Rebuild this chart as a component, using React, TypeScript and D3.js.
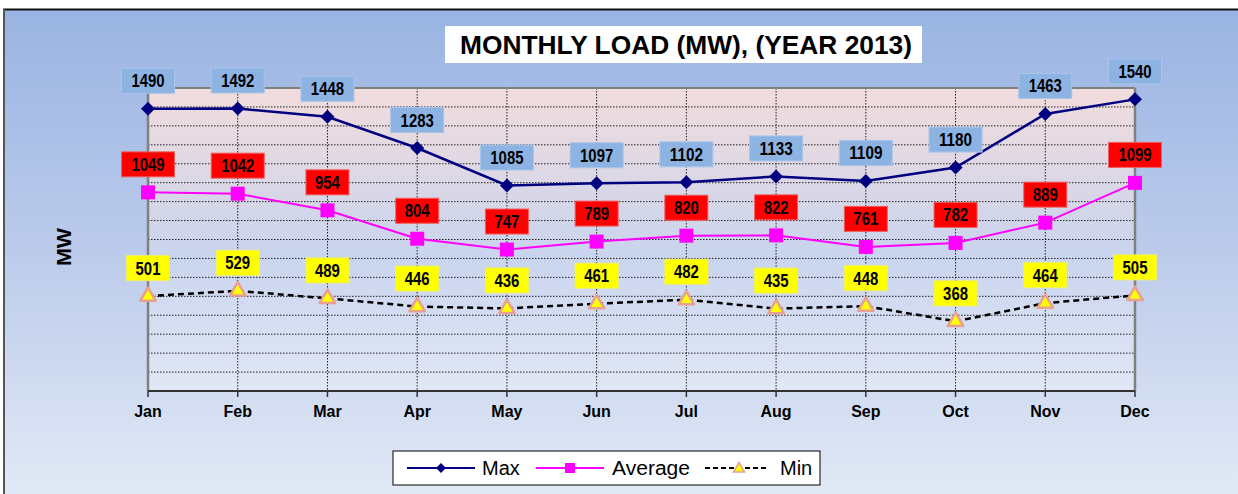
import React from "react";
import * as d3 from "d3";

const months = ["Jan", "Feb", "Mar", "Apr", "May", "Jun", "Jul", "Aug", "Sep", "Oct", "Nov", "Dec"];
const maxLoad = [1490, 1492, 1448, 1283, 1085, 1097, 1102, 1133, 1109, 1180, 1463, 1540];
const avgLoad = [1049, 1042, 954, 804, 747, 789, 820, 822, 761, 782, 889, 1099];
const minLoad = [501, 529, 489, 446, 436, 461, 482, 435, 448, 368, 464, 505];
const yTicks = d3.range(0, 1700, 100);
const title = "MONTHLY LOAD (MW), (YEAR 2013)";

const W = 1238, H = 494;
const PL = 148, PR = 1135, PT = 88, PB = 391;

export default function App() {
  const x = d3.scalePoint<string>().domain(months).range([PL, PR]);
  const y = d3.scaleLinear().domain([0, 1600]).range([PB, PT]);
  const line = (vals: number[]) =>
    d3.line<number>().x((_, i) => x(months[i])!).y((v) => y(v))(vals) || "";

  const mainFont = "'Liberation Sans', Arial, sans-serif";

  const labels = (vals: number[], fill: string, stroke: string, key: string) =>
    vals.map((v, i) => {
      const cx = x(months[i])!;
      const cy = y(v) - 28;
      const n = String(v).length;
      const w = n >= 4 ? 53 : 43;
      return (
        <g key={key + i}>
          <rect x={cx - w / 2} y={cy - 12.5} width={w} height={25} fill={fill} stroke={stroke} strokeWidth={1} />
          <text x={cx} y={cy + 6.5} textAnchor="middle" fontFamily={mainFont} fontWeight="bold" fontSize={18}
            textLength={n * 8.3} lengthAdjust="spacingAndGlyphs" fill="#000">
            {v}
          </text>
        </g>
      );
    });

  const tri = (cx: number, cy: number, s: number) =>
    `M${cx},${cy - s * 0.55} L${cx + s * 0.55},${cy + s * 0.4} L${cx - s * 0.55},${cy + s * 0.4} Z`;

  return (
    <svg width={W} height={H} style={{ position: "absolute", left: 0, top: 0 }} xmlns="http://www.w3.org/2000/svg">
      <defs>
        <linearGradient id="outerBg" x1="0" y1="0" x2="0" y2="1">
          <stop offset="0" stopColor="#99b4e2" />
          <stop offset="0.5" stopColor="#bccbeb" />
          <stop offset="1" stopColor="#e2e9f6" />
        </linearGradient>
        <linearGradient id="plotBg" x1="0" y1="0" x2="0" y2="1">
          <stop offset="0" stopColor="#f2dcdc" />
          <stop offset="0.55" stopColor="#c9d4ee" />
          <stop offset="1" stopColor="#e1e7f5" />
        </linearGradient>
      </defs>
      <rect x={0} y={0} width={W} height={H} fill="#fff" />
      <rect x={4} y={10} width={W - 4} height={H - 10} fill="url(#outerBg)" />
      <line x1={3} x2={W} y1={9.5} y2={9.5} stroke="#111" strokeWidth={2} />
      <line x1={4} x2={4} y1={9} y2={H} stroke="#555" strokeWidth={2} />

      {/* title */}
      <rect x={445} y={26} width={477} height={37} fill="#fff" />
      <text x={686} y={54} textAnchor="middle" fontFamily={mainFont} fontWeight="bold" fontSize={25}
        textLength={452} lengthAdjust="spacingAndGlyphs" fill="#000">
        {title}
      </text>

      {/* plot area */}
      <rect x={PL} y={PT} width={PR - PL} height={PB - PT} fill="url(#plotBg)" />
      {yTicks.filter((t) => t > 0 && t < 1600).map((t) => (
        <line key={"h" + t} x1={PL} x2={PR} y1={y(t)} y2={y(t)} stroke="#222" strokeWidth={1} strokeDasharray="1.5,1.5" />
      ))}
      {months.slice(1, -1).map((m) => (
        <line key={"v" + m} x1={x(m)!} x2={x(m)!} y1={PT} y2={PB} stroke="#222" strokeWidth={1} strokeDasharray="1.5,1.5" />
      ))}
      <line x1={PL} x2={PR} y1={PT} y2={PT} stroke="#808080" strokeWidth={2} />
      <line x1={PL} x2={PL} y1={PT} y2={PB} stroke="#808080" strokeWidth={2.5} />
      <line x1={PR} x2={PR} y1={PT} y2={PB} stroke="#808080" strokeWidth={2.5} />
      <line x1={PL} x2={PR} y1={PB} y2={PB} stroke="#333" strokeWidth={2} />
      {months.map((m) => (
        <line key={"t" + m} x1={x(m)!} x2={x(m)!} y1={PB} y2={PB + 6} stroke="#333" strokeWidth={1.5} />
      ))}
      {months.map((m) => (
        <text key={"l" + m} x={x(m)!} y={417} textAnchor="middle" fontFamily={mainFont} fontWeight="bold" fontSize={16} fill="#000">
          {m}
        </text>
      ))}
      <text transform="translate(71,247) rotate(-90)" textAnchor="middle" fontFamily={mainFont} fontWeight="bold" fontSize={20}
        textLength={38} lengthAdjust="spacingAndGlyphs" fill="#000">
        MW
      </text>

      {/* series lines */}
      <path d={line(maxLoad)} fill="none" stroke="#000080" strokeWidth={2.5} />
      <path d={line(avgLoad)} fill="none" stroke="#ff00ff" strokeWidth={2} />
      <path d={line(minLoad)} fill="none" stroke="#000" strokeWidth={2.5} strokeDasharray="6,4" />

      {/* markers */}
      {maxLoad.map((v, i) => {
        const cx = x(months[i])!, cy = y(v);
        return <path key={"dm" + i} d={`M${cx},${cy - 7} L${cx + 7},${cy} L${cx},${cy + 7} L${cx - 7},${cy} Z`} fill="#000080" />;
      })}
      {avgLoad.map((v, i) => {
        const cx = x(months[i])!, cy = y(v);
        return <rect key={"sq" + i} x={cx - 7} y={cy - 7} width={14} height={14} fill="#ff00ff" />;
      })}
      {minLoad.map((v, i) => {
        const cx = x(months[i])!, cy = y(v);
        return <path key={"tr" + i} d={tri(cx, cy - 1, 14)} fill="#ffff00" stroke="#e7a092" strokeWidth={2.5} strokeLinejoin="round" />;
      })}

      {/* data labels */}
      {labels(maxLoad, "#8db3e2", "#a9c5ea", "lm")}
      {labels(avgLoad, "#ff0000", "#f06060", "la")}
      {labels(minLoad, "#ffff00", "#f0f060", "ln")}

      {/* legend */}
      <rect x={393} y={451} width={427} height={34} fill="#fff" stroke="#000" strokeWidth={1} />
      <line x1={407} x2={475} y1={468} y2={468} stroke="#000080" strokeWidth={2} />
      <path d="M441,463 L446,468 L441,473 L436,468 Z" fill="#000080" />
      <text x={482} y={475} fontFamily={mainFont} fontSize={20} fill="#000">Max</text>
      <line x1={536} x2={604} y1={468} y2={468} stroke="#ff00ff" strokeWidth={2} />
      <rect x={565} y={463} width={10} height={10} fill="#ff00ff" />
      <text x={612} y={475} fontFamily={mainFont} fontSize={20} textLength={78} lengthAdjust="spacingAndGlyphs" fill="#000">Average</text>
      <line x1={705} x2={767} y1={468} y2={468} stroke="#000" strokeWidth={2} strokeDasharray="5,3" />
      <path d={tri(739, 468, 10)} fill="#ffff00" stroke="#e7a092" strokeWidth={1.5} />
      <text x={780} y={475} fontFamily={mainFont} fontSize={20} fill="#000">Min</text>
    </svg>
  );
}
